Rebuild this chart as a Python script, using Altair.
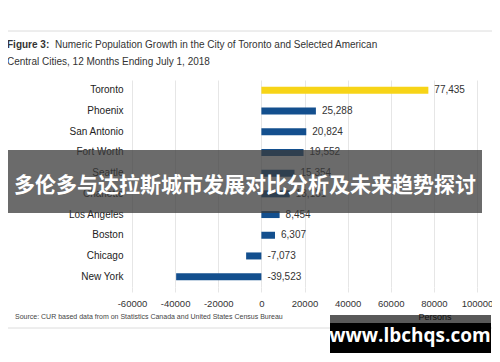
import altair as alt
import pandas as pd

cities = ["Toronto", "Phoenix", "San Antonio", "Fort Worth", "Seattle",
          "Charlotte", "Los Angeles", "Boston", "Chicago", "New York"]
growth = [77435, 25288, 20824, 19552, 15354, 13151, 8454, 6307, -7073, -39523]
x_ticks = [-60000, -40000, -20000, 0, 20000, 40000, 60000, 80000, 100000]

FONT = "Liberation Sans"
BLUE = "#134f8e"
YELLOW = "#f7d417"

df = pd.DataFrame({
    "city": cities,
    "growth": growth,
    "label": [f"{v:,}" for v in growth],
    "lx": [max(v, 0) for v in growth],
    "color": [YELLOW if c == "Toronto" else BLUE for c in cities],
})

W, H = 345, 207

xscale = alt.Scale(domain=[-60000, 100000], nice=False)
yenc = alt.Y("city:N", sort=cities, title=None,
             axis=alt.Axis(ticks=False, domain=False, grid=False, labelPadding=9,
                           labelFontSize=10, labelColor="#222", labelFont=FONT))

base = alt.Chart(df)

bars = base.mark_bar(size=7).encode(
    x=alt.X("growth:Q", scale=xscale, title=None,
            axis=alt.Axis(values=x_ticks, domain=False, grid=True,
                          labelExpr="datum.value < 0 ? '-' + format(-datum.value, 'd') : format(datum.value, 'd')",
                          labelOverlap=False, labelFlush=False,
                          gridColor="#e6e6e6", tickColor="#e6e6e6", tickSize=5,
                          labelFontSize=9.5, labelColor="#333", labelFont=FONT,
                          labelPadding=6)),
    y=yenc,
    color=alt.Color("color:N", scale=None),
)

labels = base.mark_text(align="left", baseline="middle", dx=6, fontSize=10,
                        color="#333", font=FONT).encode(
    x=alt.X("lx:Q", scale=xscale),
    y=alt.Y("city:N", sort=cities),
    text="label:N",
)

one = pd.DataFrame({"a": [0]})
ann = alt.Chart(one)

frame = ann.mark_rect(fill="transparent", stroke="#dcdcdc", strokeWidth=1).encode(
    x=alt.value(-131.5), x2=alt.value(366), y=alt.value(-49), y2=alt.value(248))

title_bold = ann.mark_text(align="left", baseline="middle", fontSize=10,
                           fontWeight="bold", font=FONT, color="#333").encode(
    x=alt.value(-125), y=alt.value(-35), text=alt.value("Figure 3:"))
title_rest = ann.mark_text(align="left", baseline="middle", fontSize=10,
                           font=FONT, color="#333").encode(
    x=alt.value(-77), y=alt.value(-35),
    text=alt.value("Numeric Population Growth in the City of Toronto and Selected American"))
title_line2 = ann.mark_text(align="left", baseline="middle", fontSize=10,
                            font=FONT, color="#333").encode(
    x=alt.value(-125), y=alt.value(-18),
    text=alt.value("Central Cities, 12 Months Ending July 1, 2018"))

source = ann.mark_text(align="left", baseline="middle", fontSize=7,
                       font=FONT, color="#444").encode(
    x=alt.value(-117), y=alt.value(237),
    text=alt.value("Source: CUR based data from on Statistics Canada and United States Census Bureau"))

persons = ann.mark_text(align="center", baseline="middle", fontSize=9,
                        font=FONT, color="#333").encode(
    x=alt.value(303), y=alt.value(237), text=alt.value("Persons"))

banner = ann.mark_rect(fill="#3a3a3a", opacity=0.75).encode(
    x=alt.value(-124), x2=alt.value(350), y=alt.value(70), y2=alt.value(133))
banner_text = ann.mark_text(align="center", baseline="middle", fontSize=21,
                            fontWeight="bold", font="Noto Sans CJK SC", color="white").encode(
    x=alt.value(113), y=alt.value(106),
    text=alt.value("多伦多与达拉斯城市发展对比分析及未来趋势探讨"))

wm_strip = ann.mark_rect(fill="#000000", opacity=0.65).encode(
    x=alt.value(198), x2=alt.value(359), y=alt.value(235), y2=alt.value(243))
wm_box = ann.mark_rect(fill="#000000").encode(
    x=alt.value(198), x2=alt.value(359), y=alt.value(243), y2=alt.value(273))
wm_text = ann.mark_text(align="center", baseline="middle", fontSize=19,
                        fontWeight="bold", font="Open Sans", color="white").encode(
    x=alt.value(278), y=alt.value(256), text=alt.value("www.lbchqs.com"))

chart = alt.layer(
    frame, bars, labels, title_bold, title_rest, title_line2, source, persons,
    banner, banner_text, wm_strip, wm_box, wm_text
).properties(
    width=W, height=H,
    padding={"left": 124, "top": 72, "right": 15, "bottom": 67},
    autosize=alt.AutoSizeParams(type="none"),
    background="white",
).configure_view(stroke=None)

chart.save("out.html", embed_options={"renderer": "svg", "actions": False})
